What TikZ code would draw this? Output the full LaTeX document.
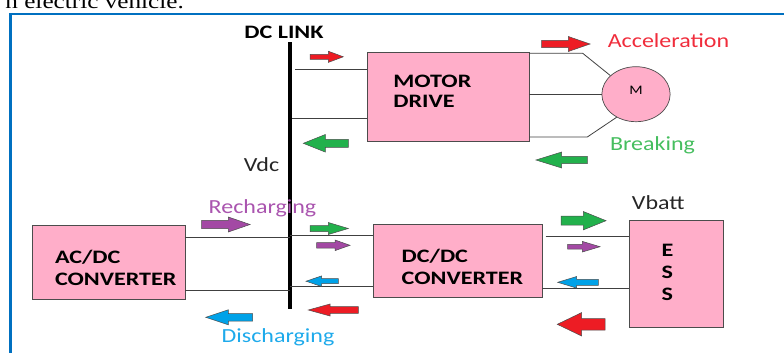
\documentclass[tikz,border=0pt]{standalone}
\usepackage{fontspec}
\usetikzlibrary{shapes.geometric,calc}
\newfontfamily\lblfont{Carlito}[FakeStretch=1.2]
\newfontfamily\boxfont{Carlito}[FakeStretch=1.27]
\newfontfamily\capfont{Liberation Serif}[FakeStretch=1.2]
\definecolor{boxPink}{RGB}{255,174,201}
\definecolor{arRed}{RGB}{237,28,36}
\definecolor{arGreen}{RGB}{34,177,76}
\definecolor{arPurple}{RGB}{163,73,164}
\definecolor{arBlue}{RGB}{0,162,232}
\definecolor{txtRed}{RGB}{240,45,60}
\definecolor{txtGreen}{RGB}{70,190,95}
\definecolor{txtPurple}{RGB}{170,85,175}
\definecolor{txtBlue}{RGB}{30,170,235}
\definecolor{frameBlue}{RGB}{0,112,192}

\begin{document}
\begin{tikzpicture}[
  x=1pt, y=-1pt,
  box/.style={draw=black!70, line width=0.8pt, fill=boxPink, align=left, inner sep=0pt,
              text height=12pt, font=\boxfont\bfseries\fontsize{19pt}{21.5pt}\selectfont},
  motor/.style={ellipse, draw=black!70, line width=0.7pt, fill=boxPink, inner sep=0pt,
                minimum width=68.3pt, minimum height=55pt, text height=8.3pt, text depth=8pt,
                font=\lblfont\fontsize{13pt}{15pt}\selectfont},
  wire/.style={draw=black!75, line width=0.8pt},
  flowlbl/.style={font=\lblfont\fontsize{20pt}{24pt}\selectfont, inner sep=0pt, anchor=base},
  pics/flow/.style n args={5}{code={
    \filldraw[fill=#1, draw=black!70, line width=0.5pt]
      (0,-#3) -- ({#2-#5},-#3) -- ({#2-#5},-#4) -- (#2,0) -- ({#2-#5},#4) -- ({#2-#5},#3) -- (0,#3) -- cycle;
  }}
]
\useasboundingbox (0,0) rectangle (784,353);
\clip (0,0) rectangle (784,353);

% frame and caption cut off at the top
\draw[frameBlue, line width=2.2pt] (10.4,360) -- (10.4,13.7) -- (790,13.7);
\node[font=\capfont\fontsize{21pt}{25pt}\selectfont, anchor=base east, inner sep=0pt] (caption) at (184,8.3) {n electric vehicle.};

% DC link
\node[fill=black, inner sep=0pt, minimum width=4pt, minimum height=267pt] (link) at (290,175.5) {};
\node[font=\boxfont\bfseries\fontsize{19pt}{22pt}\selectfont, inner sep=0pt, anchor=base] (linkLbl) at (284,38.3) {DC LINK};
\node[flowlbl, text=black!85] (vdc) at (261.5,171) {Vdc};

% blocks
\node[box, minimum width=161.7pt, minimum height=88.3pt, text width=109.8pt, text depth=31.2pt,
      font=\boxfont\bfseries\fontsize{19pt}{20.4pt}\selectfont] (mdrive) at (448.2,96.9) {MOTOR\\DRIVE};
\node[motor] (motor) at (636,94.2) {M};
\node[box, minimum width=153pt, minimum height=73.3pt, text width=107pt, text depth=10.8pt,
      font=\boxfont\bfseries\fontsize{19pt}{22pt}\selectfont] (acdc) at (108.5,262.4) {AC/DC\\CONVERTER};
\node[box, minimum width=169pt, minimum height=73.4pt, text width=112.2pt, text depth=8.6pt] (dcdc) at (457.8,261) {DC/DC\\CONVERTER};
\node[box, minimum width=94.3pt, minimum height=107.3pt, text width=29pt, text depth=47.4pt,
      font=\boxfont\bfseries\fontsize{19pt}{22.3pt}\selectfont] (ess) at (676.2,273.7) {E\\S\\S};
\node[flowlbl, text=black!85] (vbatt) at (658.3,209.3) {Vbatt};

% wires
\coordinate (mA) at (295,69.3);
\coordinate (mB) at (292,118.3);
\draw[wire] (mA) -- (mA -| mdrive.west);
\draw[wire] (mB) -- (mB -| mdrive.west);
\coordinate (mk1) at (582.7,53.3);
\coordinate (mk2) at (587.3,137);
\draw[wire] (mk1 -| mdrive.east) -- (mk1) -- (motor.144);
\draw[wire] (mdrive.east |- motor.west) -- (motor.west);
\draw[wire] (mk2 -| mdrive.east) -- (mk2) -- (motor.230);
\coordinate (aA) at (290,237.3);
\coordinate (aB) at (290,290);
\draw[wire] (acdc.east |- aA) -- (aA);
\draw[wire] (acdc.east |- aB) -- (aB);
\coordinate (dA) at (290,235);
\coordinate (dB) at (290,286.7);
\draw[wire] (dA) -- (dA -| dcdc.west);
\draw[wire] (dB) -- (dB -| dcdc.west);
\coordinate (eA) at (545.7,236.7);
\coordinate (eB) at (542,288.3);
\draw[wire] (eA) -- (eA -| ess.west);
\draw[wire] (eB) -- (eB -| ess.west);

% flow labels
\node[flowlbl, text=txtRed] (accel) at (668.5,47.7) {Acceleration};
\node[flowlbl, text=txtGreen] (brake) at (652.5,150.7) {Breaking};
\node[flowlbl, text=txtPurple] (rechg) at (262.5,213) {Recharging};
\node[flowlbl, text=txtBlue] (dischg) at (278,342) {Discharging};

% flow arrows
\pic at (310,56.8) {flow={arRed}{33.3}{2.5}{5.6}{15}};
\pic[rotate=180] at (348.3,143.3) {flow={arGreen}{45}{4}{8.8}{22}};
\pic at (541.7,44) {flow={arRed}{48.3}{3.7}{7.5}{21.7}};
\pic[rotate=180] at (587.3,160) {flow={arGreen}{51.3}{3.7}{8}{25.7}};
\pic at (201.7,224.5) {flow={arPurple}{48.3}{4.2}{7.5}{21.7}};
\pic at (310,228.5) {flow={arGreen}{38.3}{3}{6}{20}};
\pic at (316.7,245.3) {flow={arPurple}{33.3}{2.7}{5.3}{15}};
\pic[rotate=180] at (338.3,281.2) {flow={arBlue}{32.3}{2.5}{5.3}{15.7}};
\pic[rotate=180] at (358.3,310) {flow={arRed}{50}{3.3}{6}{21.7}};
\pic[rotate=180] at (252.7,317.3) {flow={arBlue}{47}{3.8}{7.5}{22.6}};
\pic at (561,220.7) {flow={arGreen}{45}{4.5}{9.2}{22.7}};
\pic at (567.7,246.7) {flow={arPurple}{32.3}{2.4}{5.3}{17.7}};
\pic[rotate=180] at (598.3,282.3) {flow={arBlue}{40.6}{3}{5.8}{19}};
\pic[rotate=180] at (605,324.3) {flow={arRed}{47.7}{5.8}{11.7}{24.3}};
\end{tikzpicture}
\end{document}
